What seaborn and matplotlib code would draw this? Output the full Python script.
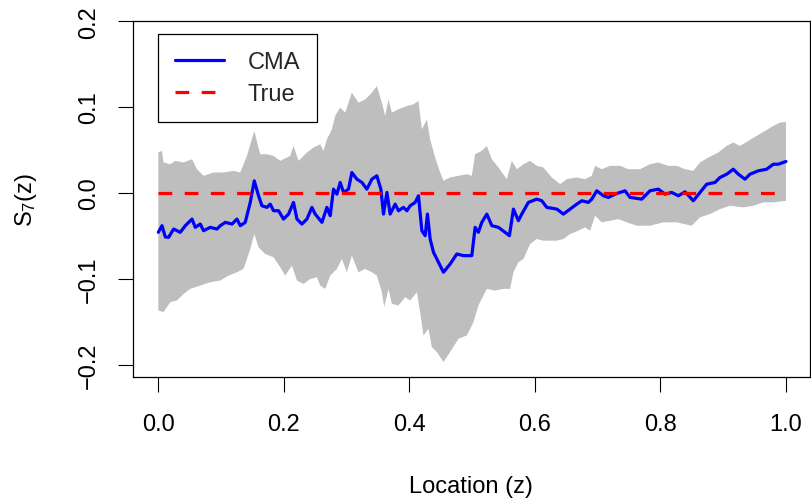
import numpy as np
import pandas as pd
import matplotlib
matplotlib.use("Agg")
import matplotlib.pyplot as plt
import seaborn as sns
from matplotlib.lines import Line2D

# ---- data ----
cma_x = [0.000, 0.0059, 0.0111, 0.0164, 0.0244, 0.0350, 0.0430, 0.0537, 0.0589, 0.0669,
         0.0721, 0.0828, 0.0935, 0.0987, 0.1067, 0.1174, 0.1253, 0.1306, 0.1385, 0.1465,
         0.1529, 0.1597, 0.1651, 0.1731, 0.1783, 0.1836, 0.1916, 0.1995, 0.2075, 0.2154,
         0.2209, 0.2288, 0.2368, 0.2447, 0.2500, 0.2607, 0.2686, 0.2739, 0.2791, 0.2845,
         0.2898, 0.2951, 0.3030, 0.3084, 0.3164, 0.3244, 0.3323, 0.3403, 0.3482, 0.3546,
         0.3588, 0.3642, 0.3694, 0.3774, 0.3826, 0.3906, 0.3960, 0.4013, 0.4092, 0.4145,
         0.4199, 0.4252, 0.4288, 0.4331, 0.4384, 0.4438, 0.4490, 0.4543, 0.4650, 0.4756,
         0.4861, 0.4995, 0.5048, 0.5100, 0.5154, 0.5234, 0.5314, 0.5419, 0.5525, 0.5594,
         0.5658, 0.5737, 0.5791, 0.5896, 0.6030, 0.6110, 0.6189, 0.6349, 0.6454, 0.6561,
         0.6667, 0.6747, 0.6852, 0.6906, 0.6986, 0.7091, 0.7170, 0.7277, 0.7357, 0.7436,
         0.7516, 0.7702, 0.7834, 0.7967, 0.8073, 0.8180, 0.8285, 0.8392, 0.8524, 0.8631,
         0.8737, 0.8869, 0.8949, 0.9056, 0.9161, 0.9241, 0.9347, 0.9427, 0.9559, 0.9693,
         0.9798, 0.9878, 1.0000]
cma_y = [-0.0456, -0.0379, -0.0510, -0.0514, -0.0418, -0.0456, -0.0379, -0.0302, -0.0398, -0.0360,
         -0.0437, -0.0398, -0.0418, -0.0379, -0.0340, -0.0360, -0.0302, -0.0379, -0.0340, -0.0108,
         0.0143, -0.0031, -0.0147, -0.0166, -0.0128, -0.0205, -0.0205, -0.0302, -0.0244, -0.0108,
         -0.0302, -0.0360, -0.0302, -0.0166, -0.0244, -0.0340, -0.0166, -0.0263, 0.0046, -0.0012,
         0.0124, 0.0008, 0.0046, 0.0240, 0.0162, 0.0124, 0.0046, 0.0162, 0.0201, 0.0046,
         -0.0244, 0.0008, -0.0244, -0.0128, -0.0205, -0.0166, -0.0205, -0.0147, -0.0108, -0.0031,
         -0.0437, -0.0495, -0.0244, -0.0534, -0.0688, -0.0766, -0.0843, -0.0920, -0.0824, -0.0708,
         -0.0727, -0.0727, -0.0398, -0.0456, -0.0340, -0.0244, -0.0379, -0.0398, -0.0456, -0.0495,
         -0.0186, -0.0321, -0.0244, -0.0108, -0.0070, -0.0089, -0.0166, -0.0186, -0.0244, -0.0186,
         -0.0128, -0.0089, -0.0108, -0.0070, 0.0027, -0.0031, -0.0050, -0.0012, 0.0008, 0.0027,
         -0.0050, -0.0070, 0.0027, 0.0046, -0.0012, 0.0008, -0.0031, 0.0015, -0.0089, 0.0008,
         0.0104, 0.0124, 0.0182, 0.0220, 0.0278, 0.0220, 0.0162, 0.0220, 0.0259, 0.0278,
         0.0336, 0.0336, 0.0368]

upper_x = [0.000, 0.0059, 0.0084, 0.0191, 0.0271, 0.0403, 0.0537, 0.0616, 0.0721, 0.0881,
           0.1040, 0.1199, 0.1306, 0.1412, 0.1529, 0.1624, 0.1731, 0.1836, 0.1943, 0.2102,
           0.2154, 0.2234, 0.2368, 0.2473, 0.2580, 0.2632, 0.2686, 0.2766, 0.2818, 0.2898,
           0.2978, 0.3084, 0.3189, 0.3296, 0.3403, 0.3482, 0.3562, 0.3615, 0.3667, 0.3721,
           0.3826, 0.3960, 0.4065, 0.4145, 0.4199, 0.4279, 0.4331, 0.4411, 0.4490, 0.4543,
           0.4650, 0.4782, 0.4916, 0.4995, 0.5048, 0.5154, 0.5234, 0.5314, 0.5419, 0.5553,
           0.5632, 0.5712, 0.5817, 0.5924, 0.6030, 0.6135, 0.6269, 0.6401, 0.6508, 0.6667,
           0.6799, 0.6906, 0.6959, 0.7065, 0.7197, 0.7357, 0.7489, 0.7675, 0.7834, 0.7967,
           0.8126, 0.8260, 0.8392, 0.8524, 0.8631, 0.8763, 0.8922, 0.9056, 0.9161, 0.9268,
           0.9400, 0.9533, 0.9666, 0.9798, 0.9904, 1.0000]
upper_y = [0.0472, 0.0491, 0.0356, 0.0336, 0.0375, 0.0356, 0.0394, 0.0278, 0.0201, 0.0240,
           0.0240, 0.0259, 0.0240, 0.0433, 0.0723, 0.0452, 0.0452, 0.0433, 0.0375, 0.0433,
           0.0549, 0.0375, 0.0472, 0.0530, 0.0568, 0.0491, 0.0626, 0.0742, 0.0897, 0.0994,
           0.0936, 0.1168, 0.1052, 0.1090, 0.1168, 0.1245, 0.1052, 0.0897, 0.1090, 0.0936,
           0.0974, 0.1013, 0.1032, 0.1071, 0.0742, 0.0858, 0.0626, 0.0414, 0.0240, 0.0143,
           0.0182, 0.0201, 0.0220, 0.0201, 0.0452, 0.0491, 0.0549, 0.0394, 0.0298, 0.0162,
           0.0375, 0.0278, 0.0336, 0.0375, 0.0317, 0.0298, 0.0182, 0.0104, 0.0162, 0.0182,
           0.0162, 0.0201, 0.0317, 0.0278, 0.0317, 0.0317, 0.0278, 0.0278, 0.0336, 0.0356,
           0.0317, 0.0317, 0.0278, 0.0259, 0.0356, 0.0414, 0.0472, 0.0549, 0.0588, 0.0549,
           0.0607, 0.0665, 0.0723, 0.0781, 0.0820, 0.0827]

lower_x = [0.000, 0.0084, 0.0191, 0.0298, 0.0403, 0.0510, 0.0669, 0.0828, 0.0987, 0.1119,
           0.1253, 0.1358, 0.1465, 0.1529, 0.1597, 0.1704, 0.1836, 0.1943, 0.2022, 0.2129,
           0.2209, 0.2314, 0.2420, 0.2527, 0.2580, 0.2659, 0.2739, 0.2845, 0.2925, 0.3004,
           0.3084, 0.3189, 0.3296, 0.3403, 0.3482, 0.3562, 0.3599, 0.3667, 0.3721, 0.3826,
           0.3933, 0.4013, 0.4119, 0.4172, 0.4225, 0.4304, 0.4358, 0.4438, 0.4543, 0.4650,
           0.4782, 0.4916, 0.5021, 0.5100, 0.5234, 0.5366, 0.5499, 0.5605, 0.5658, 0.5737,
           0.5817, 0.5924, 0.6030, 0.6135, 0.6242, 0.6349, 0.6454, 0.6561, 0.6693, 0.6799,
           0.6879, 0.6959, 0.7065, 0.7197, 0.7330, 0.7463, 0.7623, 0.7834, 0.8046, 0.8260,
           0.8498, 0.8631, 0.8790, 0.8949, 0.9108, 0.9320, 0.9480, 0.9639, 0.9798, 1.0000]
lower_y = [-0.1365, -0.1384, -0.1268, -0.1249, -0.1172, -0.1114, -0.1075, -0.1036, -0.1017, -0.0959,
           -0.0920, -0.0882, -0.0650, -0.0476, -0.0630, -0.0708, -0.0746, -0.0862, -0.0959, -0.0843,
           -0.1017, -0.1056, -0.1000, -0.0978, -0.1075, -0.1114, -0.0959, -0.0882, -0.0766, -0.0920,
           -0.0727, -0.0920, -0.0882, -0.0920, -0.0959, -0.1152, -0.1326, -0.1114, -0.1288, -0.1307,
           -0.1210, -0.1249, -0.1152, -0.1384, -0.1655, -0.1578, -0.1790, -0.1848, -0.1964, -0.1848,
           -0.1694, -0.1655, -0.1500, -0.1307, -0.1114, -0.1133, -0.1114, -0.1114, -0.0920, -0.0804,
           -0.0766, -0.0592, -0.0534, -0.0553, -0.0553, -0.0553, -0.0534, -0.0476, -0.0437, -0.0398,
           -0.0437, -0.0263, -0.0340, -0.0321, -0.0302, -0.0340, -0.0379, -0.0379, -0.0340, -0.0340,
           -0.0379, -0.0282, -0.0244, -0.0186, -0.0147, -0.0166, -0.0147, -0.0108, -0.0108, -0.0089]

true_x = [0.0, 1.0]
true_y = [0.0, 0.0]

x_ticks = [0.0, 0.2, 0.4, 0.6, 0.8, 1.0]
x_tick_labels = ["0.0", "0.2", "0.4", "0.6", "0.8", "1.0"]
y_ticks = [-0.2, -0.1, 0.0, 0.1, 0.2]
y_tick_labels = ["\u22120.2", "\u22120.1", "0.0", "0.1", "0.2"]

# ---- style ----
sns.set_theme(style="white")
plt.rcParams["font.family"] = ["Liberation Sans", "DejaVu Sans"]
plt.rcParams["mathtext.fontset"] = "custom"
plt.rcParams["mathtext.rm"] = "Liberation Sans"
plt.rcParams["mathtext.it"] = "Liberation Sans"
FS = 17
DASH = (0, (4.3, 3.9))

fig = plt.figure(figsize=(8.11, 5.02), dpi=100)
ax = fig.add_axes([132.7 / 811, (502 - 377.7) / 502, (810 - 132.7) / 811, (377.7 - 21.7) / 502])

band_x = np.concatenate([upper_x, lower_x[::-1]])
band_y = np.concatenate([upper_y, lower_y[::-1]])
ax.fill(band_x, band_y, color="#BEBEBE", linewidth=0, zorder=1)

df_cma = pd.DataFrame({"x": cma_x, "y": cma_y})
sns.lineplot(data=df_cma, x="x", y="y", ax=ax, color="#0000FF", linewidth=2.3,
             sort=False, estimator=None, zorder=3)
df_true = pd.DataFrame({"x": true_x, "y": true_y})
sns.lineplot(data=df_true, x="x", y="y", ax=ax, color="#FF0000", linewidth=2.3,
             linestyle=DASH, estimator=None, zorder=4)

ax.set_xlim(-0.0408, 1.0383)
ax.set_ylim(-0.2135, 0.2005)

for s in ax.spines.values():
    s.set_visible(True)
    s.set_color("black")
    s.set_linewidth(0.9)

ax.set_xticks(x_ticks)
ax.set_xticklabels(x_tick_labels, fontsize=FS)
ax.set_yticks(y_ticks)
ax.set_yticklabels(y_tick_labels, fontsize=FS, rotation=90, va="center")
ax.tick_params(axis="both", direction="out", length=10.8, width=0.8, color="black",
               bottom=True, left=True, labelcolor="black")
ax.tick_params(axis="x", pad=15)
ax.tick_params(axis="y", pad=13)

ax.set_xlabel("Location (z)", fontsize=FS, color="black", labelpad=29)
ax.set_ylabel(r"$\mathregular{S_7(z)}$", fontsize=FS, color="black", labelpad=28)

handles = [Line2D([], [], color="#0000FF", linewidth=2.3),
           Line2D([], [], color="#FF0000", linewidth=2.3, linestyle=DASH)]
leg = ax.legend(handles, ["CMA", "True"], loc="upper left",
                bbox_to_anchor=((157.7 - 132.7) / 677.3, (377.7 - 35) / 356.0),
                borderaxespad=0, fontsize=FS, frameon=True, fancybox=False,
                handlelength=2.1, handletextpad=1.0, borderpad=0.72, labelspacing=0.42)
leg.get_frame().set_edgecolor("black")
leg.get_frame().set_linewidth(0.9)
leg.get_frame().set_alpha(1)

fig.savefig("out.png", dpi=100)
